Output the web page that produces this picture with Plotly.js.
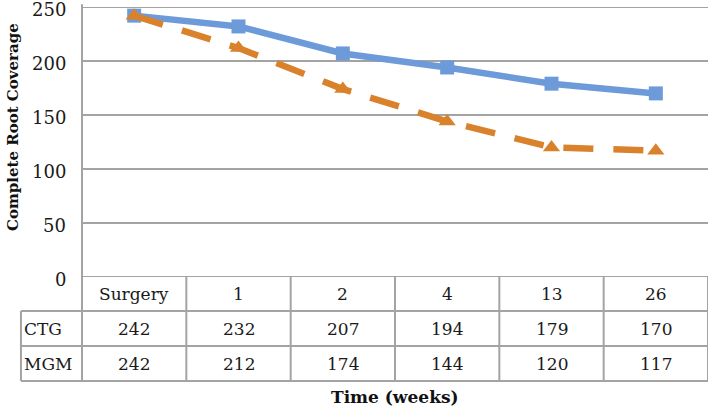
<!DOCTYPE html>
<html>
<head>
<meta charset="utf-8">
<script src="https://cdn.plot.ly/plotly-3.0.1.min.js"></script>
<style>html,body{margin:0;padding:0;background:#fff;}#chart{width:709px;height:412px;}</style>
</head>
<body>
<div id="chart"></div>
<script>
var categories = ["Surgery", "1", "2", "4", "13", "26"];
var seriesNames = ["CTG", "MGM"];
var ctgValues = [242, 232, 207, 194, 179, 170];
var mgmValues = [242, 212, 174, 144, 120, 117];
var yTicks = [0, 50, 100, 150, 200, 250];

var serif = "DejaVu Serif, Liberation Serif, serif";
var gridColor = "#a3a3a3";
var xIdx = categories.map(function (c, i) { return i; });

var traces = [
  {
    x: xIdx, y: ctgValues, name: seriesNames[0], type: "scatter", mode: "lines+markers",
    line: {color: "#6d9ad9", width: 6.5},
    marker: {symbol: "square", size: 14, color: "#6d9ad9"}
  },
  {
    x: xIdx, y: mgmValues, name: seriesNames[1], type: "scatter", mode: "lines+markers",
    line: {color: "#d9822b", width: 6.5, dash: "30px,20px"},
    marker: {symbol: "triangle-up", size: 15, color: "#d9822b"}
  }
];

// table geometry (paper coords relative to plot area)
var rowEdges = [0, -0.126, -0.256, -0.385];
var labelLeft = -0.0975;
var shapes = [];
var lineStyle = {color: gridColor, width: 2};
// horizontal gridline at 0 and 250 (axis edges)
shapes.push({type: "line", xref: "paper", yref: "y", x0: 0, x1: 1, y0: yTicks[0], y1: yTicks[0], line: lineStyle});
shapes.push({type: "line", xref: "paper", yref: "y", x0: 0, x1: 1, y0: yTicks[yTicks.length - 1], y1: yTicks[yTicks.length - 1], line: lineStyle});
// horizontal table lines
for (var r = 1; r < rowEdges.length; r++) {
  shapes.push({type: "line", xref: "paper", yref: "paper", x0: labelLeft, x1: 1, y0: rowEdges[r], y1: rowEdges[r], line: lineStyle});
}
// left edge of label column
shapes.push({type: "line", xref: "paper", yref: "paper", x0: labelLeft, x1: labelLeft, y0: rowEdges[1], y1: rowEdges[3], line: lineStyle});
// plot left axis extended down through table
shapes.push({type: "line", xref: "paper", yref: "paper", x0: 0, x1: 0, y0: 1.01, y1: rowEdges[3], line: lineStyle});
// column separators
for (var i = 0; i < categories.length; i++) {
  shapes.push({type: "line", xref: "x", yref: "paper", x0: i + 0.5, x1: i + 0.5, y0: 0, y1: rowEdges[3], line: lineStyle});
}

var annotations = [];
var cellFont = {family: serif, size: 17, color: "#1a1a1a"};
function rowMid(r) { return (rowEdges[r] + rowEdges[r + 1]) / 2; }
categories.forEach(function (c, i) {
  annotations.push({x: i, y: rowMid(0), xref: "x", yref: "paper", text: c, showarrow: false, font: cellFont, xanchor: "center", yanchor: "middle"});
  annotations.push({x: i, y: rowMid(1), xref: "x", yref: "paper", text: String(ctgValues[i]), showarrow: false, font: cellFont, xanchor: "center", yanchor: "middle"});
  annotations.push({x: i, y: rowMid(2), xref: "x", yref: "paper", text: String(mgmValues[i]), showarrow: false, font: cellFont, xanchor: "center", yanchor: "middle"});
});
annotations.push({x: labelLeft + 0.002, y: rowMid(1), xref: "paper", yref: "paper", text: seriesNames[0], showarrow: false, font: cellFont, xanchor: "left", yanchor: "middle"});
annotations.push({x: labelLeft + 0.002, y: rowMid(2), xref: "paper", yref: "paper", text: seriesNames[1], showarrow: false, font: cellFont, xanchor: "left", yanchor: "middle"});
// y tick labels (drawn as text so the edge labels are not clipped)
yTicks.forEach(function (t) {
  annotations.push({x: -0.022, y: t, xref: "paper", yref: "y", text: String(t), showarrow: false, font: {family: serif, size: 18, color: "#1a1a1a"}, xanchor: "right", yanchor: "middle", yshift: -2});
});
// axis titles
annotations.push({x: 0.5, y: -0.444, xref: "paper", yref: "paper", text: "<b>Time (weeks)</b>", showarrow: false, font: {family: serif, size: 17, color: "#111"}, xanchor: "center", yanchor: "middle"});
annotations.push({x: -0.11, y: 0.556, xref: "paper", yref: "paper", text: "<b>Complete Root Coverage</b>", textangle: -90, showarrow: false, font: {family: serif, size: 15, color: "#111"}, xanchor: "center", yanchor: "middle"});

var layout = {
  width: 709, height: 412,
  margin: {l: 82, r: 1, t: 7, b: 135},
  paper_bgcolor: "#fff", plot_bgcolor: "#fff",
  showlegend: false,
  xaxis: {
    range: [-0.5, 5.5], showticklabels: false, showgrid: false, zeroline: false,
    showline: false, ticks: "", fixedrange: true
  },
  yaxis: {
    range: [0, 250], tickvals: yTicks, showticklabels: false,
    showgrid: true, gridcolor: gridColor, gridwidth: 2, zeroline: false,
    showline: false, ticks: ""
  },
  shapes: shapes,
  annotations: annotations
};

Plotly.newPlot("chart", traces, layout, {displayModeBar: false, staticPlot: true});
</script>
</body>
</html>
